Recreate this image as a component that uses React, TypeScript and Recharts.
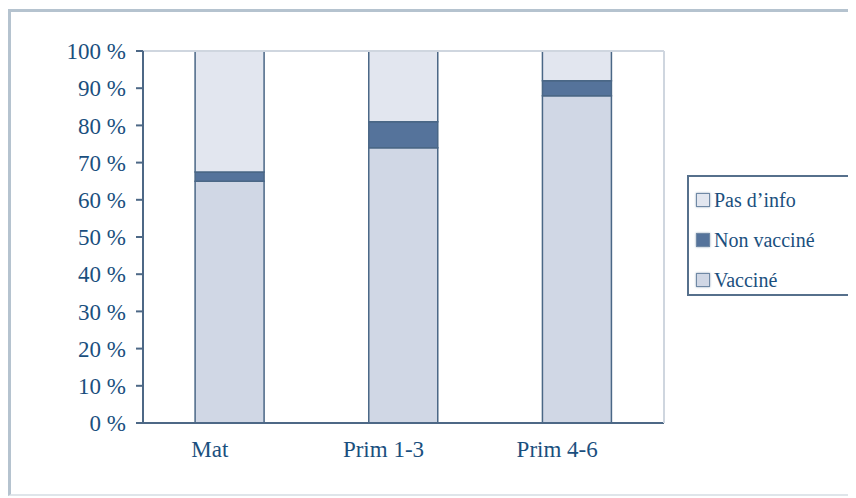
import { BarChart, Bar, XAxis, YAxis, Legend } from 'recharts';

const categories = ['Mat', 'Prim 1-3', 'Prim 4-6'];
const vaccine = [65, 74, 88];
const nonVaccine = [2.5, 7, 4];
const noInfo = [32.5, 19, 8];
const yTicks = [0, 10, 20, 30, 40, 50, 60, 70, 80, 90, 100];

const data = categories.map((name, i) => ({
  name,
  vaccine: vaccine[i],
  nonVaccine: nonVaccine[i],
  noInfo: noInfo[i],
}));

const TEXT = '#1a4f7e';
const AXIS = '#4d6886';
const EDGE = '#4a6786';
const FONT = '"Liberation Serif", "Times New Roman", serif';

const SERIES = [
  { key: 'noInfo', name: 'Pas d\u2019info', fill: '#e2e6ef' },
  { key: 'nonVaccine', name: 'Non vacciné', fill: '#55739b' },
  { key: 'vaccine', name: 'Vacciné', fill: '#d0d7e5' },
];

function LegendBox() {
  return (
    <div
      style={{
        border: '2px solid #56708c',
        borderRight: 'none',
        height: 121,
        paddingTop: 3,
        boxSizing: 'border-box',
        fontFamily: FONT,
        fontSize: 20,
        color: TEXT,
      }}
    >
      {SERIES.map((s) => (
        <div key={s.key} style={{ display: 'flex', alignItems: 'center', height: 40 }}>
          <span
            style={{
              display: 'inline-block',
              width: 12,
              height: 12,
              marginLeft: 7,
              marginRight: 4,
              background: s.fill,
              border: '1px solid #7089a5',
              boxShadow: '0 0 2px #8fa3ba',
            }}
          />
          <span>{s.name}</span>
        </div>
      ))}
    </div>
  );
}

export default function App() {
  return (
    <div style={{ position: 'relative', width: 848, height: 490 }}>
      <div
        style={{
          position: 'absolute',
          left: 0,
          top: 1,
          width: 860,
          height: 482,
          borderLeft: '3px solid #b5c3cf',
          borderTop: '3px solid #b5c3cf',
          borderBottom: '2px solid #dfe5ea',
        }}
      />
      <div style={{ position: 'absolute', left: 0, top: 0 }}>
        <BarChart
          width={848}
          height={490}
          data={data}
          barCategoryGap="30%"
          margin={{ top: 42, right: 16, bottom: 0, left: 0 }}
        >
          <XAxis
            xAxisId="top"
            orientation="top"
            type="number"
            domain={[0, 1]}
            ticks={[0, 1]}
            tick={false}
            tickLine={false}
            height={1}
            axisLine={{ stroke: '#cfd6df', strokeWidth: 2 }}
          />
          <XAxis
            xAxisId="b"
            type="number"
            domain={[0, 3]}
            ticks={[0, 1, 2, 3]}
            interval={0}
            tick={false}
            tickSize={7}
            height={1}
            axisLine={{ stroke: AXIS, strokeWidth: 2 }}
            tickLine={{ stroke: AXIS, strokeWidth: 2 }}
          />
          <XAxis
            xAxisId="cat"
            dataKey="name"
            axisLine={false}
            tickLine={false}
            tickSize={0}
            tickMargin={17}
            height={74}
            dx={-20}
            tick={{ fill: TEXT, fontSize: 23, fontFamily: FONT }}
          />
          <YAxis
            yAxisId="l"
            domain={[0, 100]}
            ticks={yTicks}
            interval={0}
            tickFormatter={(v) => `${v} %`}
            width={135}
            tickSize={7}
            tickMargin={10}
            axisLine={{ stroke: AXIS, strokeWidth: 2 }}
            tickLine={{ stroke: AXIS, strokeWidth: 2 }}
            tick={{ fill: TEXT, fontSize: 23, fontFamily: FONT }}
          />
          <YAxis
            yAxisId="r"
            orientation="right"
            domain={[0, 100]}
            ticks={[0, 100]}
            tick={false}
            tickLine={false}
            width={1}
            axisLine={{ stroke: '#cfd6df', strokeWidth: 2 }}
          />
          <Legend
            layout="vertical"
            align="right"
            verticalAlign="top"
            wrapperStyle={{ left: 679, top: 167, width: 175 }}
            content={() => <LegendBox />}
          />
          <Bar xAxisId="cat" yAxisId="l" dataKey="vaccine" name="Vacciné" stackId="a" fill="#d0d7e5" stroke={EDGE} strokeWidth={1.5} isAnimationActive={false} />
          <Bar xAxisId="cat" yAxisId="l" dataKey="nonVaccine" name="Non vacciné" stackId="a" fill="#55739b" stroke={EDGE} strokeWidth={1.5} isAnimationActive={false} />
          <Bar xAxisId="cat" yAxisId="l" dataKey="noInfo" name="Pas d'info" stackId="a" fill="#e2e6ef" stroke={EDGE} strokeWidth={1.5} isAnimationActive={false} />
        </BarChart>
      </div>
    </div>
  );
}
